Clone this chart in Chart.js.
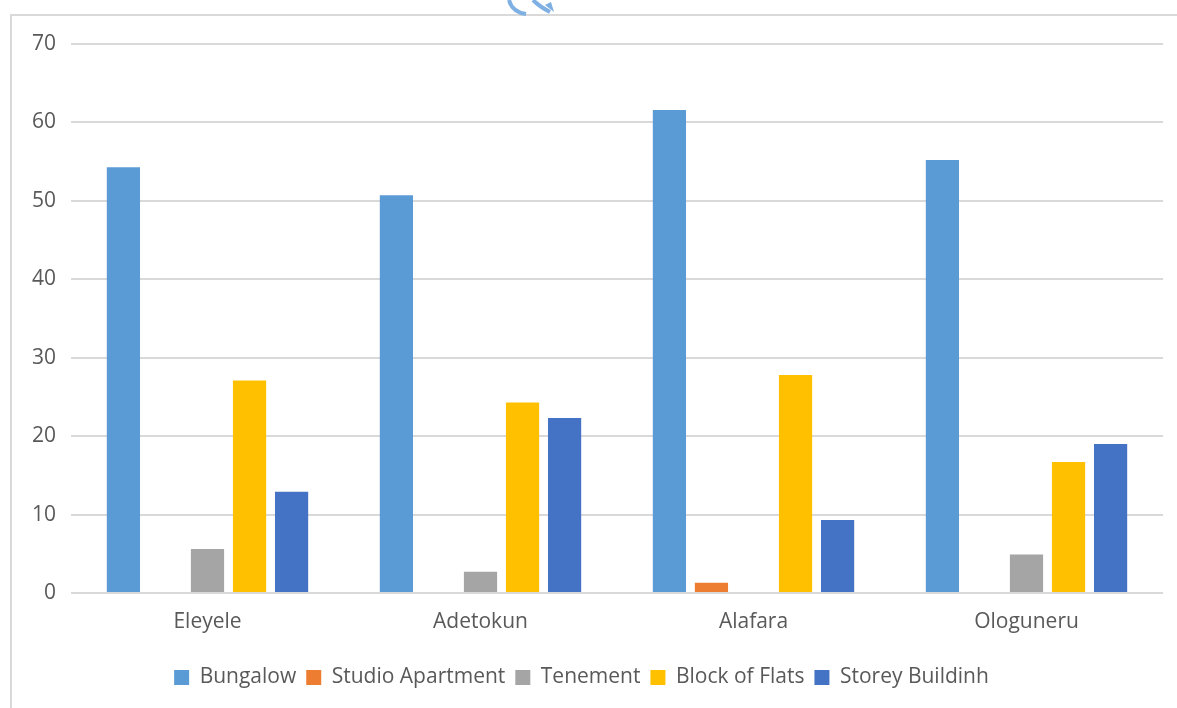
<!DOCTYPE html>
<html>
<head>
<meta charset="utf-8">
<script src="https://cdn.jsdelivr.net/npm/chart.js@4.4.1/dist/chart.umd.min.js"></script>
<style>
  html, body { margin:0; padding:0; background:#ffffff; }
  #wrap { position:relative; width:1177px; height:708px; overflow:hidden; }
  #frame { position:absolute; left:10px; top:14px; width:1200px; height:720px; border-left:2px solid #d9d9d9; border-top:2px solid #d9d9d9; }
  #c { position:absolute; left:0; top:0; }
  #deco { position:absolute; left:0; top:0; }
</style>
</head>
<body>
<div id="wrap">
  <div id="frame"></div>
  <svg id="deco" width="1177" height="30">
    <path d="M 509 0 Q 512 12 526 14" fill="none" stroke="#7fb0e3" stroke-width="4"/>
    <path d="M 533 0 Q 540 7 550 12" fill="none" stroke="#7fb0e3" stroke-width="4"/>
    <path d="M 545 5 L 554 12 L 551 2 Z" fill="#7fb0e3"/>
  </svg>
  <canvas id="c" width="1177" height="708"></canvas>
</div>
<script>
const categories = ["Eleyele", "Adetokun", "Alafara", "Ologuneru"];
const bungalow = [54.3, 50.7, 61.6, 55.2];
const studioApartment = [0, 0, 1.3, 0];
const tenement = [5.6, 2.7, 0, 4.9];
const blockOfFlats = [27.1, 24.3, 27.8, 16.7];
const storeyBuilding = [12.9, 22.3, 9.3, 19.0];
const yTicks = [0, 10, 20, 30, 40, 50, 60, 70];

const FONT = "'Open Sans', 'Noto Sans', sans-serif";

new Chart(document.getElementById('c'), {
  type: 'bar',
  data: {
    labels: categories,
    datasets: [
      { label: 'Bungalow', data: bungalow, backgroundColor: '#5B9BD5' },
      { label: 'Studio Apartment', data: studioApartment, backgroundColor: '#ED7D31' },
      { label: 'Tenement', data: tenement, backgroundColor: '#A5A5A5' },
      { label: 'Block of Flats', data: blockOfFlats, backgroundColor: '#FFC000' },
      { label: 'Storey Buildinh', data: storeyBuilding, backgroundColor: '#4472C4' }
    ]
  },
  options: {
    responsive: false,
    devicePixelRatio: 1,
    animation: false,
    layout: { padding: { left: 0, right: 14, top: 44, bottom: 10 } },
    datasets: { bar: { categoryPercentage: 0.77, barPercentage: 0.79 } },
    plugins: {
      legend: {
        position: 'bottom',
        labels: {
          font: { family: FONT, size: 21 },
          color: '#595959',
          boxWidth: 15,
          boxHeight: 15,
          padding: 10
        }
      },
      tooltip: { enabled: false }
    },
    scales: {
      x: {
        afterFit: (s) => { s.height = 64; },
        grid: { display: false, drawTicks: false },
        border: { display: false },
        ticks: { font: { family: FONT, size: 21 }, color: '#595959', padding: 16 }
      },
      y: {
        min: 0, max: 70,
        afterFit: (s) => { s.width = 71; },
        afterBuildTicks: (s) => { s.ticks = yTicks.map(v => ({ value: v })); },
        grid: { color: '#d9d9d9', lineWidth: 2, drawTicks: false },
        border: { display: false },
        ticks: { font: { family: FONT, size: 21 }, color: '#595959', padding: 15 }
      }
    }
  }
});
</script>
</body>
</html>
